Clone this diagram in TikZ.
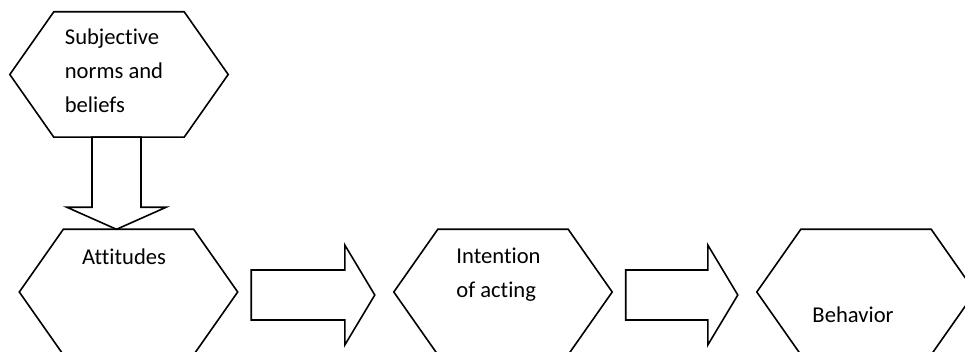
\documentclass[tikz,border=0pt]{standalone}
\usepackage{fontspec}
\setmainfont{Carlito}[Ligatures=NoCommon]
\usetikzlibrary{calc, positioning}

\begin{document}
\begin{tikzpicture}[x=1pt,y=-1pt,
  hexa/.style={minimum width=218pt, minimum height=125pt, inner sep=0pt},
  outline/.style={line width=1.6pt, line join=miter},
  lbl/.style={font=\fontsize{22.6}{34}\selectfont, align=left, inner sep=0pt}]
  \useasboundingbox (0,0) rectangle (965,352);
  \clip (0,0) rectangle (965,352);

  % hexagon boxes
  \node[hexa] (sub) at (119,74.5) {};
  \node[hexa] (att) at (128.5,292) {};
  \node[hexa] (int) at (503,292) {};
  \node[hexa] (beh) at (866,292) {};
  \foreach \n in {sub,att,int,beh}
    \draw[outline] (\n.west) -- ($(\n.north west)+(44,0)$) -- ($(\n.north east)+(-44,0)$)
      -- (\n.east) -- ($(\n.south east)+(-44,0)$) -- ($(\n.south west)+(44,0)$) -- cycle;

  \node[lbl] (sub-txt) at ($(sub)+(-5,-3.5)$) {Subjective\\norms and\\beliefs};
  \node[lbl] (att-txt) at ($(att)+(-4.5,-35)$) {Attitudes};
  \node[lbl] (int-txt) at ($(int)+(-4.5,-17)$) {Intention\\of acting};
  \node[lbl] (beh-txt) at ($(beh)+(-13,23)$) {Behavior};

  % block arrow down
  \coordinate (down-top) at ($(sub.south)+(-2.5,0)$);
  \coordinate (down-tip) at (down-top |- att.north);
  \draw[outline] ($(down-top)+(-24.5,0)$) -- ($(down-tip)+(-24.5,-22)$) -- ($(down-tip)+(-49.5,-22)$)
    -- (down-tip) -- ($(down-tip)+(49.5,-22)$) -- ($(down-tip)+(24.5,-22)$) -- ($(down-top)+(24.5,0)$) -- cycle;

  % block arrows right
  \foreach \a/\b in {att/int, int/beh} {
    \coordinate (s) at ($(\a.east)+(13.5,3)$);
    \coordinate (t) at ($(\b.west)+(-19,3)$);
    \draw[outline] ($(s)+(0,-25)$) -- ($(t)+(-30,-25)$) -- ($(t)+(-30,-50)$) -- (t)
      -- ($(t)+(-30,50)$) -- ($(t)+(-30,25)$) -- ($(s)+(0,25)$) -- cycle;
  }
\end{tikzpicture}
\end{document}
